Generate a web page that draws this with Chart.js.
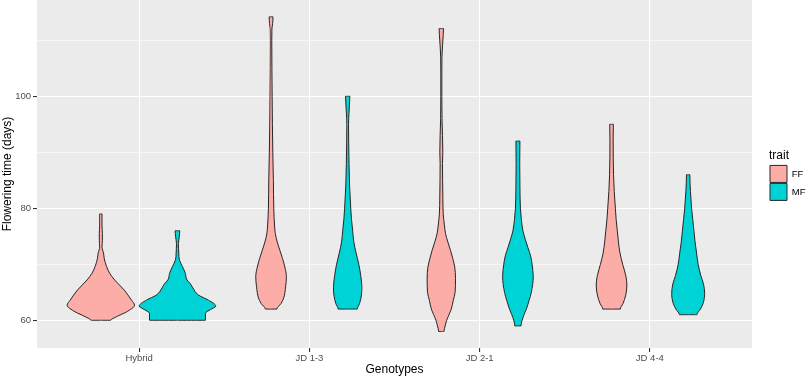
<!DOCTYPE html>
<html>
<head>
<meta charset="utf-8">
<script src="https://cdn.jsdelivr.net/npm/chart.js@4.4.1/dist/chart.umd.min.js"></script>
<style>
  html, body { margin: 0; padding: 0; background: #fff; }
  #wrap { width: 809px; height: 378px; }
</style>
</head>
<body>
<div id="wrap"><canvas id="chart"></canvas></div>
<script>
const genotypes = ['Hybrid', 'JD 1-3', 'JD 2-1', 'JD 4-4'];
const traits = ['FF', 'MF'];
const traitFill = ['#FCADA7', '#00D3D6'];
const yMajorTicks = [60, 80, 100];
const yMinorTicks = [70, 90, 110];

// violin outlines: flowering day levels and relative density (1 = widest violin)
const hybridFFDays = [60, 60.65, 61.5, 62.7, 63.6, 65.4, 67.2, 68.4, 69.6, 71, 72, 73.1, 74.3, 75.5, 77, 79];
const hybridFFDensity = [0.26, 0.41, 0.67, 0.88, 0.80, 0.61, 0.36, 0.23, 0.15, 0.09, 0.07, 0.03, 0.04, 0.04, 0.03, 0.03];
const hybridMFDays = [60, 61.25, 61.9, 62.55, 63.6, 64.5, 65.8, 66.5, 67.2, 68.5, 69.6, 70.8, 72, 73.7, 75, 76];
const hybridMFDensity = [0.73, 0.73, 0.86, 1.0, 0.81, 0.55, 0.40, 0.34, 0.25, 0.20, 0.13, 0.05, 0.035, 0.025, 0.05, 0.06];

const jd13FFDays = [62, 63, 64, 66, 67.8, 69.5, 71, 72.5, 74, 75.5, 77, 80, 85, 90, 95, 100, 105, 110, 112, 113, 114.2];
const jd13FFDensity = [0.15, 0.26, 0.33, 0.38, 0.40, 0.36, 0.30, 0.23, 0.16, 0.11, 0.09, 0.07, 0.06, 0.045, 0.035, 0.028, 0.022, 0.018, 0.022, 0.04, 0.05];
const jd13MFDays = [62, 63, 64.5, 66, 68, 70, 72, 74, 76, 78, 80, 84, 88, 92, 95, 97, 99, 100];
const jd13MFDensity = [0.25, 0.31, 0.36, 0.37, 0.34, 0.29, 0.22, 0.16, 0.13, 0.10, 0.08, 0.05, 0.035, 0.026, 0.022, 0.034, 0.05, 0.057];

const jd21FFDays = [58, 59, 60, 61, 62, 63.5, 65, 67.5, 69.5, 71, 72.5, 74, 75.5, 77, 79, 82, 85, 88, 90, 93, 96, 100, 104, 107, 109, 111, 112.1];
const jd21FFDensity = [0.07, 0.10, 0.14, 0.20, 0.26, 0.31, 0.36, 0.37, 0.35, 0.30, 0.24, 0.17, 0.11, 0.08, 0.05, 0.04, 0.034, 0.031, 0.039, 0.031, 0.018, 0.013, 0.013, 0.016, 0.031, 0.05, 0.057];
const jd21MFDays = [59, 60, 61, 62, 63.5, 65, 67.8, 70, 71.5, 73, 74.5, 76, 78, 80, 84, 88, 92];
const jd21MFDensity = [0.08, 0.11, 0.16, 0.22, 0.29, 0.35, 0.40, 0.37, 0.33, 0.26, 0.19, 0.13, 0.09, 0.065, 0.052, 0.047, 0.052];

const jd44FFDays = [62, 63, 64.5, 66.3, 68, 70, 72, 74, 76, 78, 80, 83, 86, 89, 92, 95];
const jd44FFDensity = [0.23, 0.30, 0.37, 0.40, 0.37, 0.29, 0.22, 0.18, 0.15, 0.12, 0.10, 0.07, 0.052, 0.044, 0.042, 0.047];
const jd44MFDays = [61, 62, 63, 64.8, 66.5, 68, 70, 72, 74, 76, 78, 80, 83, 86];
const jd44MFDensity = [0.23, 0.32, 0.39, 0.43, 0.40, 0.33, 0.26, 0.22, 0.18, 0.15, 0.12, 0.09, 0.06, 0.044];

const violins = [
  [0, 0, hybridFFDays, hybridFFDensity], [0, 1, hybridMFDays, hybridMFDensity],
  [1, 0, jd13FFDays, jd13FFDensity], [1, 1, jd13MFDays, jd13MFDensity],
  [2, 0, jd21FFDays, jd21FFDensity], [2, 1, jd21MFDays, jd21MFDensity],
  [3, 0, jd44FFDays, jd44FFDensity], [3, 1, jd44MFDays, jd44MFDensity]
];

const dodge = 0.225;      // half of the 0.45 slot each trait gets
const maxHalf = 0.225;    // half width of the widest violin

function violinHalf(g, t, days, dens, side) {
  const c = g + 1 + (t === 0 ? -dodge : dodge);
  const pts = [{x: c, y: days[0]}];
  days.forEach((d, i) => pts.push({x: c + side * dens[i] * maxHalf, y: d}));
  pts.push({x: c, y: days[days.length - 1]});
  return {
    label: traits[t],
    data: pts,
    xAxisID: 'x',
    yAxisID: 'y',
    backgroundColor: traitFill[t],
    borderColor: '#262626',
    borderWidth: 1,
    fill: {value: c - side * 0.002},
    pointRadius: 0,
    cubicInterpolationMode: 'monotone'
  };
}

const datasets = [];
violins.forEach(([g, t, days, dens]) => {
  datasets.push(violinHalf(g, t, days, dens, 1));
  datasets.push(violinHalf(g, t, days, dens, -1));
});

const panelBg = {
  id: 'panelBg',
  beforeDraw(chart) {
    const {ctx, chartArea: a} = chart;
    ctx.save();
    ctx.fillStyle = '#EBEBEB';
    ctx.fillRect(a.left, a.top, a.right - a.left, a.bottom - a.top);
    ctx.restore();
  }
};

const font = 'Liberation Sans, Arial, sans-serif';
const noPad = s => { s.paddingTop = 0; s.paddingBottom = 0; s.paddingLeft = 0; s.paddingRight = 0; };

new Chart(document.getElementById('chart'), {
  type: 'line',
  data: {datasets},
  plugins: [panelBg],
  options: {
    indexAxis: 'y',
    responsive: true,
    maintainAspectRatio: false,
    animation: false,
    events: [],
    layout: {padding: 0},
    plugins: {
      tooltip: {enabled: false},
      legend: {
        position: 'right',
        align: 'start',
        maxWidth: 40,
        title: {
          display: true,
          text: 'trait',
          position: 'start',
          color: '#000',
          font: {family: font, size: 12},
          padding: {top: 150, bottom: 0}
        },
        labels: {
          boxWidth: 17,
          boxHeight: 17,
          padding: 1,
          color: '#333',
          font: {family: font, size: 9.5},
          generateLabels: () => traits.map((t, i) => ({
            text: t,
            fillStyle: traitFill[i],
            strokeStyle: '#262626',
            lineWidth: 1,
            hidden: false,
            datasetIndex: i
          }))
        }
      }
    },
    scales: {
      x: {
        type: 'linear',
        position: 'bottom',
        min: 0.4,
        max: 4.6,
        afterBuildTicks: s => { s.ticks = genotypes.map((g, i) => ({value: i + 1})); },
        afterFit: s => { s.height = 30; noPad(s); },
        border: {display: false},
        grid: {color: '#FFFFFF', lineWidth: 1.1, tickColor: '#333333', tickLength: 4},
        ticks: {
          autoSkip: false,
          maxRotation: 0,
          padding: 1,
          color: '#4D4D4D',
          font: {family: font, size: 9.5},
          callback: v => genotypes[v - 1]
        },
        title: {
          display: true,
          text: 'Genotypes',
          color: '#000',
          font: {family: font, size: 12},
          padding: {top: 0, bottom: 1}
        }
      },
      y: {
        type: 'linear',
        position: 'left',
        min: 55.05,
        max: 117.2,
        afterBuildTicks: s => {
          s.ticks = yMajorTicks.concat(yMinorTicks).sort((a, b) => a - b).map(v => ({value: v}));
        },
        afterFit: s => { s.width = 37; noPad(s); },
        border: {display: false},
        grid: {
          color: '#FFFFFF',
          lineWidth: c => yMajorTicks.includes(c.tick.value) ? 1.1 : 0.55,
          tickColor: c => yMajorTicks.includes(c.tick.value) ? '#333333' : 'rgba(0,0,0,0)',
          tickLength: 4
        },
        ticks: {
          padding: 2,
          color: '#4D4D4D',
          font: {family: font, size: 9.5},
          callback: v => yMajorTicks.includes(v) ? String(v) : ''
        },
        title: {
          display: true,
          text: 'Flowering time (days)',
          color: '#000',
          font: {family: font, size: 12},
          padding: 0
        }
      },
      gap: {
        type: 'linear',
        position: 'right',
        display: true,
        grid: {display: false},
        border: {display: false},
        ticks: {display: false},
        afterFit: s => { s.width = 17; noPad(s); }
      }
    }
  }
});
</script>
</body>
</html>
